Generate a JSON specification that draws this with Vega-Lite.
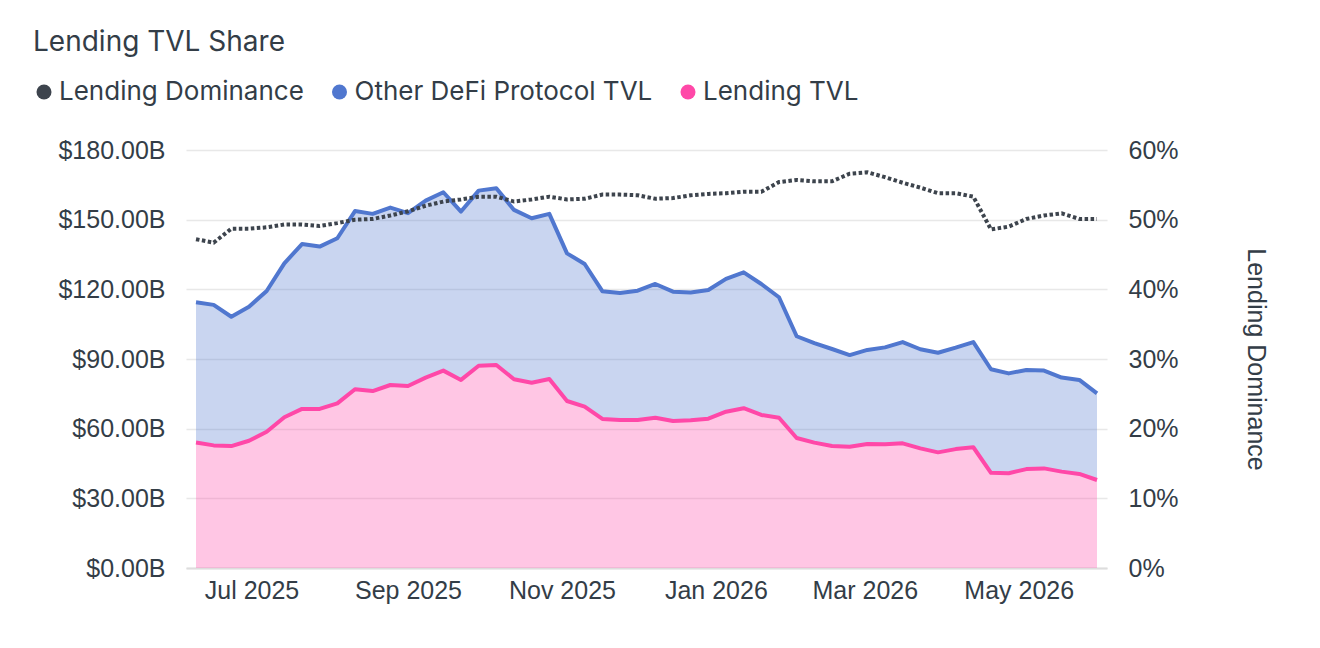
{
  "$schema": "https://vega.github.io/schema/vega-lite/v6.json",
  "description": "Lending TVL Share: stacked TVL areas with lending dominance on a second axis",
  "autosize": {"type": "none"},
  "width": 921,
  "height": 418,
  "padding": {"left": 186, "top": 150, "right": 213, "bottom": 80},
  "background": "white",
  "title": {
    "text": "Lending TVL Share",
    "anchor": "start",
    "frame": "group",
    "dx": -153,
    "dy": -22,
    "offset": 0,
    "font": "Inter",
    "fontSize": 28,
    "fontWeight": 400,
    "color": "#333d47"
  },
  "config": {
    "view": {"stroke": null},
    "axis": {
      "labelFont": "Liberation Sans",
      "labelFontSize": 25,
      "labelColor": "#333d47",
      "titleFont": "Liberation Sans",
      "titleFontSize": 25,
      "titleFontWeight": "normal",
      "titleColor": "#333d47",
      "ticks": false
    }
  },
  "datasets": {
    "tvl": [
      {"date": "2025-06-09", "series": "Lending TVL", "tvl": 54.0}, {"date": "2025-06-09", "series": "Other DeFi Protocol TVL", "tvl": 60.4},
      {"date": "2025-06-16", "series": "Lending TVL", "tvl": 52.8}, {"date": "2025-06-16", "series": "Other DeFi Protocol TVL", "tvl": 60.5},
      {"date": "2025-06-23", "series": "Lending TVL", "tvl": 52.5}, {"date": "2025-06-23", "series": "Other DeFi Protocol TVL", "tvl": 55.7},
      {"date": "2025-06-30", "series": "Lending TVL", "tvl": 54.8}, {"date": "2025-06-30", "series": "Other DeFi Protocol TVL", "tvl": 57.7},
      {"date": "2025-07-07", "series": "Lending TVL", "tvl": 58.7}, {"date": "2025-07-07", "series": "Other DeFi Protocol TVL", "tvl": 60.6},
      {"date": "2025-07-14", "series": "Lending TVL", "tvl": 64.9}, {"date": "2025-07-14", "series": "Other DeFi Protocol TVL", "tvl": 66.3},
      {"date": "2025-07-21", "series": "Lending TVL", "tvl": 68.5}, {"date": "2025-07-21", "series": "Other DeFi Protocol TVL", "tvl": 71.0},
      {"date": "2025-07-28", "series": "Lending TVL", "tvl": 68.5}, {"date": "2025-07-28", "series": "Other DeFi Protocol TVL", "tvl": 69.9},
      {"date": "2025-08-04", "series": "Lending TVL", "tvl": 70.9}, {"date": "2025-08-04", "series": "Other DeFi Protocol TVL", "tvl": 71.1},
      {"date": "2025-08-11", "series": "Lending TVL", "tvl": 77.0}, {"date": "2025-08-11", "series": "Other DeFi Protocol TVL", "tvl": 76.7},
      {"date": "2025-08-18", "series": "Lending TVL", "tvl": 76.2}, {"date": "2025-08-18", "series": "Other DeFi Protocol TVL", "tvl": 76.3},
      {"date": "2025-08-25", "series": "Lending TVL", "tvl": 78.8}, {"date": "2025-08-25", "series": "Other DeFi Protocol TVL", "tvl": 76.4},
      {"date": "2025-09-01", "series": "Lending TVL", "tvl": 78.4}, {"date": "2025-09-01", "series": "Other DeFi Protocol TVL", "tvl": 74.4},
      {"date": "2025-09-08", "series": "Lending TVL", "tvl": 82.0}, {"date": "2025-09-08", "series": "Other DeFi Protocol TVL", "tvl": 76.2},
      {"date": "2025-09-15", "series": "Lending TVL", "tvl": 85.0}, {"date": "2025-09-15", "series": "Other DeFi Protocol TVL", "tvl": 76.8},
      {"date": "2025-09-22", "series": "Lending TVL", "tvl": 81.0}, {"date": "2025-09-22", "series": "Other DeFi Protocol TVL", "tvl": 72.5},
      {"date": "2025-09-29", "series": "Lending TVL", "tvl": 87.1}, {"date": "2025-09-29", "series": "Other DeFi Protocol TVL", "tvl": 75.4},
      {"date": "2025-10-06", "series": "Lending TVL", "tvl": 87.4}, {"date": "2025-10-06", "series": "Other DeFi Protocol TVL", "tvl": 76.1},
      {"date": "2025-10-13", "series": "Lending TVL", "tvl": 81.3}, {"date": "2025-10-13", "series": "Other DeFi Protocol TVL", "tvl": 72.9},
      {"date": "2025-10-20", "series": "Lending TVL", "tvl": 79.8}, {"date": "2025-10-20", "series": "Other DeFi Protocol TVL", "tvl": 70.8},
      {"date": "2025-10-27", "series": "Lending TVL", "tvl": 81.4}, {"date": "2025-10-27", "series": "Other DeFi Protocol TVL", "tvl": 71.1},
      {"date": "2025-11-03", "series": "Lending TVL", "tvl": 71.9}, {"date": "2025-11-03", "series": "Other DeFi Protocol TVL", "tvl": 63.6},
      {"date": "2025-11-10", "series": "Lending TVL", "tvl": 69.5}, {"date": "2025-11-10", "series": "Other DeFi Protocol TVL", "tvl": 61.4},
      {"date": "2025-11-17", "series": "Lending TVL", "tvl": 64.2}, {"date": "2025-11-17", "series": "Other DeFi Protocol TVL", "tvl": 55.0},
      {"date": "2025-11-24", "series": "Lending TVL", "tvl": 63.7}, {"date": "2025-11-24", "series": "Other DeFi Protocol TVL", "tvl": 54.7},
      {"date": "2025-12-01", "series": "Lending TVL", "tvl": 63.7}, {"date": "2025-12-01", "series": "Other DeFi Protocol TVL", "tvl": 55.7},
      {"date": "2025-12-08", "series": "Lending TVL", "tvl": 64.7}, {"date": "2025-12-08", "series": "Other DeFi Protocol TVL", "tvl": 57.6},
      {"date": "2025-12-15", "series": "Lending TVL", "tvl": 63.3}, {"date": "2025-12-15", "series": "Other DeFi Protocol TVL", "tvl": 55.7},
      {"date": "2025-12-22", "series": "Lending TVL", "tvl": 63.6}, {"date": "2025-12-22", "series": "Other DeFi Protocol TVL", "tvl": 55.0},
      {"date": "2025-12-29", "series": "Lending TVL", "tvl": 64.3}, {"date": "2025-12-29", "series": "Other DeFi Protocol TVL", "tvl": 55.4},
      {"date": "2026-01-05", "series": "Lending TVL", "tvl": 67.3}, {"date": "2026-01-05", "series": "Other DeFi Protocol TVL", "tvl": 57.2},
      {"date": "2026-01-12", "series": "Lending TVL", "tvl": 68.8}, {"date": "2026-01-12", "series": "Other DeFi Protocol TVL", "tvl": 58.5},
      {"date": "2026-01-19", "series": "Lending TVL", "tvl": 65.9}, {"date": "2026-01-19", "series": "Other DeFi Protocol TVL", "tvl": 56.4},
      {"date": "2026-01-26", "series": "Lending TVL", "tvl": 64.7}, {"date": "2026-01-26", "series": "Other DeFi Protocol TVL", "tvl": 51.9},
      {"date": "2026-02-02", "series": "Lending TVL", "tvl": 56.0}, {"date": "2026-02-02", "series": "Other DeFi Protocol TVL", "tvl": 43.8},
      {"date": "2026-02-09", "series": "Lending TVL", "tvl": 54.0}, {"date": "2026-02-09", "series": "Other DeFi Protocol TVL", "tvl": 42.8},
      {"date": "2026-02-16", "series": "Lending TVL", "tvl": 52.5}, {"date": "2026-02-16", "series": "Other DeFi Protocol TVL", "tvl": 41.8},
      {"date": "2026-02-23", "series": "Lending TVL", "tvl": 52.2}, {"date": "2026-02-23", "series": "Other DeFi Protocol TVL", "tvl": 39.5},
      {"date": "2026-03-02", "series": "Lending TVL", "tvl": 53.4}, {"date": "2026-03-02", "series": "Other DeFi Protocol TVL", "tvl": 40.5},
      {"date": "2026-03-09", "series": "Lending TVL", "tvl": 53.3}, {"date": "2026-03-09", "series": "Other DeFi Protocol TVL", "tvl": 41.7},
      {"date": "2026-03-16", "series": "Lending TVL", "tvl": 53.7}, {"date": "2026-03-16", "series": "Other DeFi Protocol TVL", "tvl": 43.6},
      {"date": "2026-03-23", "series": "Lending TVL", "tvl": 51.5}, {"date": "2026-03-23", "series": "Other DeFi Protocol TVL", "tvl": 42.7},
      {"date": "2026-03-30", "series": "Lending TVL", "tvl": 49.8}, {"date": "2026-03-30", "series": "Other DeFi Protocol TVL", "tvl": 42.9},
      {"date": "2026-04-06", "series": "Lending TVL", "tvl": 51.2}, {"date": "2026-04-06", "series": "Other DeFi Protocol TVL", "tvl": 43.7},
      {"date": "2026-04-13", "series": "Lending TVL", "tvl": 52.0}, {"date": "2026-04-13", "series": "Other DeFi Protocol TVL", "tvl": 45.3},
      {"date": "2026-04-20", "series": "Lending TVL", "tvl": 41.0}, {"date": "2026-04-20", "series": "Other DeFi Protocol TVL", "tvl": 44.6},
      {"date": "2026-04-27", "series": "Lending TVL", "tvl": 40.8}, {"date": "2026-04-27", "series": "Other DeFi Protocol TVL", "tvl": 43.0},
      {"date": "2026-05-04", "series": "Lending TVL", "tvl": 42.6}, {"date": "2026-05-04", "series": "Other DeFi Protocol TVL", "tvl": 42.7},
      {"date": "2026-05-11", "series": "Lending TVL", "tvl": 42.9}, {"date": "2026-05-11", "series": "Other DeFi Protocol TVL", "tvl": 42.1},
      {"date": "2026-05-18", "series": "Lending TVL", "tvl": 41.5}, {"date": "2026-05-18", "series": "Other DeFi Protocol TVL", "tvl": 40.5},
      {"date": "2026-05-25", "series": "Lending TVL", "tvl": 40.5}, {"date": "2026-05-25", "series": "Other DeFi Protocol TVL", "tvl": 40.5},
      {"date": "2026-06-01", "series": "Lending TVL", "tvl": 37.9}, {"date": "2026-06-01", "series": "Other DeFi Protocol TVL", "tvl": 37.3}
    ],
    "dominance": [
      {"date": "2025-06-09", "dominance": 0.472}, {"date": "2025-06-16", "dominance": 0.467},
      {"date": "2025-06-23", "dominance": 0.487}, {"date": "2025-06-30", "dominance": 0.487},
      {"date": "2025-07-07", "dominance": 0.489}, {"date": "2025-07-14", "dominance": 0.493},
      {"date": "2025-07-21", "dominance": 0.493}, {"date": "2025-07-28", "dominance": 0.491},
      {"date": "2025-08-04", "dominance": 0.495}, {"date": "2025-08-11", "dominance": 0.500},
      {"date": "2025-08-18", "dominance": 0.501}, {"date": "2025-08-25", "dominance": 0.506},
      {"date": "2025-09-01", "dominance": 0.512}, {"date": "2025-09-08", "dominance": 0.520},
      {"date": "2025-09-15", "dominance": 0.526}, {"date": "2025-09-22", "dominance": 0.529},
      {"date": "2025-09-29", "dominance": 0.533}, {"date": "2025-10-06", "dominance": 0.533},
      {"date": "2025-10-13", "dominance": 0.526}, {"date": "2025-10-20", "dominance": 0.529},
      {"date": "2025-10-27", "dominance": 0.533}, {"date": "2025-11-03", "dominance": 0.529},
      {"date": "2025-11-10", "dominance": 0.530}, {"date": "2025-11-17", "dominance": 0.536},
      {"date": "2025-11-24", "dominance": 0.536}, {"date": "2025-12-01", "dominance": 0.535},
      {"date": "2025-12-08", "dominance": 0.530}, {"date": "2025-12-15", "dominance": 0.531},
      {"date": "2025-12-22", "dominance": 0.535}, {"date": "2025-12-29", "dominance": 0.537},
      {"date": "2026-01-05", "dominance": 0.538}, {"date": "2026-01-12", "dominance": 0.540},
      {"date": "2026-01-19", "dominance": 0.540}, {"date": "2026-01-26", "dominance": 0.554},
      {"date": "2026-02-02", "dominance": 0.557}, {"date": "2026-02-09", "dominance": 0.555},
      {"date": "2026-02-16", "dominance": 0.555}, {"date": "2026-02-23", "dominance": 0.566},
      {"date": "2026-03-02", "dominance": 0.568}, {"date": "2026-03-09", "dominance": 0.561},
      {"date": "2026-03-16", "dominance": 0.553}, {"date": "2026-03-23", "dominance": 0.546},
      {"date": "2026-03-30", "dominance": 0.538}, {"date": "2026-04-06", "dominance": 0.538},
      {"date": "2026-04-13", "dominance": 0.533}, {"date": "2026-04-20", "dominance": 0.486},
      {"date": "2026-04-27", "dominance": 0.490}, {"date": "2026-05-04", "dominance": 0.501},
      {"date": "2026-05-11", "dominance": 0.506}, {"date": "2026-05-18", "dominance": 0.509},
      {"date": "2026-05-25", "dominance": 0.501}, {"date": "2026-06-01", "dominance": 0.501}
    ]
  },
  "encoding": {
    "x": {
      "field": "date",
      "type": "temporal",
      "scale": {"type": "utc", "padding": 10, "nice": false},
      "axis": {
        "title": null,
        "format": "%b %Y",
        "tickCount": {"interval": "month", "step": 2},
        "grid": false,
        "domainColor": "#dddddd",
        "domainWidth": 2,
        "labelPadding": 10
      }
    }
  },
  "layer": [
    {
      "data": {"name": "tvl"},
      "mark": {"type": "area", "fillOpacity": 0.31, "line": {"strokeWidth": 4, "strokeJoin": "round"}},
      "encoding": {
        "y": {
          "field": "tvl",
          "type": "quantitative",
          "stack": "zero",
          "scale": {"domain": [0, 180], "nice": false},
          "axis": {
            "orient": "left",
            "title": null,
            "values": [0, 30, 60, 90, 120, 150, 180],
            "labelExpr": "'$' + format(datum.value, '.2f') + 'B'",
            "grid": true,
            "gridColor": "#e8e8e8",
            "gridWidth": 1.5,
            "domain": false,
            "labelPadding": 21
          }
        },
        "color": {
          "field": "series",
          "type": "nominal",
          "scale": {
            "domain": ["Lending Dominance", "Other DeFi Protocol TVL", "Lending TVL"],
            "range": ["#3d444d", "#5077cf", "#ff48a8"]
          },
          "legend": {
            "title": null,
            "orient": "none",
            "direction": "horizontal",
            "legendX": -155,
            "legendY": -71,
            "padding": 0,
            "symbolType": "circle",
            "symbolSize": 225,
            "symbolStrokeWidth": 0,
            "symbolOpacity": 1,
            "labelFont": "Inter",
            "labelFontSize": 26,
            "labelColor": "#333d47",
            "labelOffset": 2,
            "labelLimit": 0,
            "columnPadding": 22.5,
            "encode": {
              "symbols": {
                "update": {
                  "fill": {"scale": "color", "field": "value"},
                  "fillOpacity": {"value": 1},
                  "strokeWidth": {"value": 0}
                }
              }
            }
          }
        },
        "order": {"field": "series", "sort": "ascending"}
      }
    },
    {
      "data": {"name": "dominance"},
      "mark": {"type": "line", "strokeWidth": 4, "strokeDash": [3.5, 2.5]},
      "encoding": {
        "y": {
          "field": "dominance",
          "type": "quantitative",
          "scale": {"domain": [0, 0.6], "nice": false},
          "axis": {
            "orient": "right",
            "title": "Lending Dominance",
            "titleAngle": 90,
            "titlePadding": 64,
            "values": [0, 0.1, 0.2, 0.3, 0.4, 0.5, 0.6],
            "format": ".0%",
            "grid": false,
            "domain": false,
            "labelPadding": 21
          }
        },
        "color": {"datum": "Lending Dominance", "type": "nominal"}
      }
    }
  ],
  "resolve": {"scale": {"y": "independent"}}
}
